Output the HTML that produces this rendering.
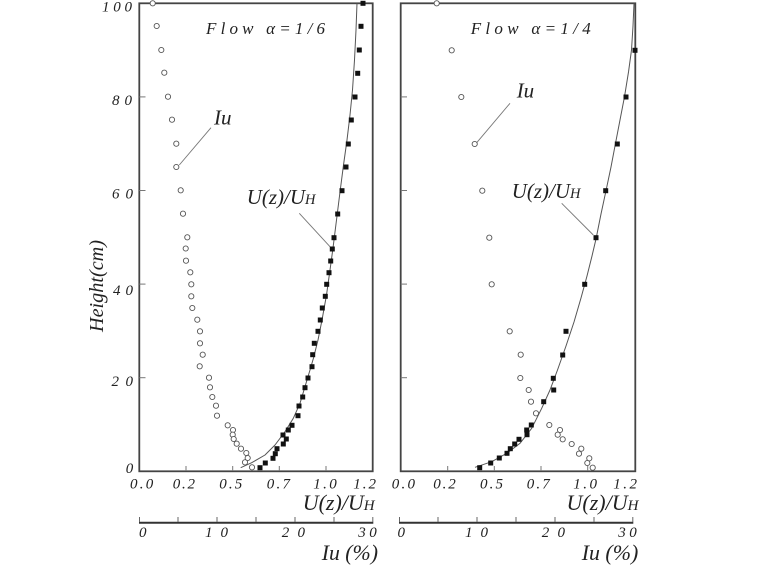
<!DOCTYPE html>
<html><head><meta charset="utf-8"><style>
html,body{margin:0;padding:0;background:#fff;}
svg{display:block;}
text{font-family:"Liberation Serif",serif;font-style:italic;fill:#222;}
</style></head><body>
<svg width="760" height="570" viewBox="0 0 760 570" xmlns="http://www.w3.org/2000/svg">
<!-- Left frame -->
<rect x="139.3" y="3.3" width="233.4" height="468" fill="none" stroke="#444" stroke-width="1.8"/>
<!-- Right frame -->
<rect x="400.7" y="3.3" width="234.6" height="468" fill="none" stroke="#444" stroke-width="1.8"/>
<g stroke="#777" stroke-width="1">
<!-- left y ticks -->
<line x1="139.3" y1="96.9" x2="145.5" y2="96.9"/>
<line x1="139.3" y1="190.5" x2="145.5" y2="190.5"/>
<line x1="139.3" y1="284.1" x2="145.5" y2="284.1"/>
<line x1="139.3" y1="377.7" x2="145.5" y2="377.7"/>
<!-- right y ticks -->
<line x1="400.7" y1="96.9" x2="407" y2="96.9"/>
<line x1="400.7" y1="190.5" x2="407" y2="190.5"/>
<line x1="400.7" y1="284.1" x2="407" y2="284.1"/>
<line x1="400.7" y1="377.7" x2="407" y2="377.7"/>
<!-- left x ticks -->
<line x1="186" y1="471" x2="186" y2="466"/>
<line x1="232.7" y1="471" x2="232.7" y2="466"/>
<line x1="279.3" y1="471" x2="279.3" y2="466"/>
<line x1="326" y1="471" x2="326" y2="466"/>
<!-- right x ticks -->
<line x1="447.7" y1="471" x2="447.7" y2="466"/>
<line x1="494.3" y1="471" x2="494.3" y2="466"/>
<line x1="541" y1="471" x2="541" y2="466"/>
<line x1="587.7" y1="471" x2="587.7" y2="466"/>
</g>

<!-- Iu axes -->
<line x1="139" y1="522.7" x2="373.3" y2="522.7" stroke="#333" stroke-width="2"/>
<line x1="399" y1="522.7" x2="633.3" y2="522.7" stroke="#333" stroke-width="2"/>
<g stroke="#666" stroke-width="1">
<line x1="139.5" y1="517" x2="139.5" y2="522"/>
<line x1="178" y1="517" x2="178" y2="522"/>
<line x1="217" y1="517" x2="217" y2="522"/>
<line x1="256" y1="517" x2="256" y2="522"/>
<line x1="295" y1="517" x2="295" y2="522"/>
<line x1="334" y1="517" x2="334" y2="522"/>
<line x1="372.8" y1="517" x2="372.8" y2="522"/>
<line x1="399.5" y1="517" x2="399.5" y2="522"/>
<line x1="438" y1="517" x2="438" y2="522"/>
<line x1="477" y1="517" x2="477" y2="522"/>
<line x1="516" y1="517" x2="516" y2="522"/>
<line x1="555" y1="517" x2="555" y2="522"/>
<line x1="594" y1="517" x2="594" y2="522"/>
<line x1="632.8" y1="517" x2="632.8" y2="522"/>
</g>

<!-- Curves -->
<polyline fill="none" stroke="#555" stroke-width="1" stroke-linejoin="round" points="240.7,467.7 251.7,462.7 265,455 275,445 285,431.7 293.3,418.3 300,403.3 305.5,385 310,370 313.5,358 318,340 322,320 326.5,295 330,270 333,248 336.5,220 340,192 343.5,165 347,140 350,115 352.5,90 354.5,60 356,30 357,3.3"/>
<polyline fill="none" stroke="#555" stroke-width="1" stroke-linejoin="round" points="475,467.3 491.7,461.7 506.7,453.3 520,443.3 531.7,428.3 541.7,408.3 550,390 557.5,370 566,346 574,322 581,298 587,276 592,256 596,239 601,214 606,190.7 611,167 615.5,143.3 620,120 624.5,96.7 628.5,72 631.5,50 633,26 634,3.3"/>

<!-- Leader lines -->
<g stroke="#777" stroke-width="0.9">
<line x1="179.3" y1="165" x2="211" y2="127.7"/>
<line x1="299.3" y1="213.3" x2="330" y2="246.7"/>
<line x1="510" y1="103.3" x2="476.7" y2="142.7"/>
<line x1="561.7" y1="203.3" x2="593.3" y2="235"/>
</g>

<!-- Left circles -->
<g fill="#fff" stroke="#555" stroke-width="0.9">
<circle cx="152.7" cy="3.3" r="2.6"/><circle cx="156.7" cy="26" r="2.6"/><circle cx="161.3" cy="50" r="2.6"/><circle cx="164.3" cy="72.7" r="2.6"/><circle cx="168" cy="96.7" r="2.6"/><circle cx="172" cy="119.7" r="2.6"/><circle cx="176.3" cy="143.7" r="2.6"/><circle cx="176.3" cy="167" r="2.6"/><circle cx="180.7" cy="190.3" r="2.6"/><circle cx="183" cy="213.7" r="2.6"/><circle cx="187.3" cy="237.3" r="2.6"/><circle cx="185.7" cy="248.5" r="2.6"/><circle cx="186" cy="260.7" r="2.6"/><circle cx="190.3" cy="272.3" r="2.6"/><circle cx="191.3" cy="284.3" r="2.6"/><circle cx="191.3" cy="296.3" r="2.6"/><circle cx="192.3" cy="308" r="2.6"/><circle cx="197.3" cy="319.7" r="2.6"/><circle cx="200" cy="331.3" r="2.6"/><circle cx="200" cy="343.3" r="2.6"/><circle cx="202.7" cy="354.7" r="2.6"/><circle cx="199.7" cy="366.3" r="2.6"/><circle cx="209" cy="377.7" r="2.6"/><circle cx="210" cy="387.3" r="2.6"/><circle cx="212.3" cy="397" r="2.6"/><circle cx="216" cy="405.7" r="2.6"/><circle cx="217" cy="415.7" r="2.6"/><circle cx="227.7" cy="425.3" r="2.6"/><circle cx="233" cy="430" r="2.6"/><circle cx="232.7" cy="434.7" r="2.6"/><circle cx="233.7" cy="439" r="2.6"/><circle cx="236.7" cy="443.7" r="2.6"/><circle cx="241" cy="448.7" r="2.6"/><circle cx="246.3" cy="453" r="2.6"/><circle cx="247.7" cy="458" r="2.6"/><circle cx="245" cy="462.3" r="2.6"/><circle cx="252" cy="467.3" r="2.6"/>
<!-- Right circles -->
<circle cx="436.7" cy="3.3" r="2.6"/><circle cx="451.7" cy="50.3" r="2.6"/><circle cx="461.3" cy="97" r="2.6"/><circle cx="474.7" cy="144" r="2.6"/><circle cx="482.3" cy="190.7" r="2.6"/><circle cx="489.3" cy="237.7" r="2.6"/><circle cx="491.7" cy="284.3" r="2.6"/><circle cx="509.7" cy="331.3" r="2.6"/><circle cx="520.7" cy="354.7" r="2.6"/><circle cx="520.3" cy="378" r="2.6"/><circle cx="528.7" cy="390" r="2.6"/><circle cx="531" cy="401.7" r="2.6"/><circle cx="536" cy="413.3" r="2.6"/><circle cx="549.3" cy="425" r="2.6"/><circle cx="560" cy="430" r="2.6"/><circle cx="557.7" cy="434.7" r="2.6"/><circle cx="562.7" cy="439.3" r="2.6"/><circle cx="571.7" cy="444" r="2.6"/><circle cx="581.3" cy="448.7" r="2.6"/><circle cx="579" cy="453.7" r="2.6"/><circle cx="589.3" cy="458.3" r="2.6"/><circle cx="587.3" cy="463" r="2.6"/><circle cx="592.7" cy="467.7" r="2.6"/>
</g>

<!-- Squares -->
<g fill="#111">
<rect x="360.5" y="0.8" width="5" height="5"/><rect x="358.5" y="23.8" width="5" height="5"/><rect x="356.8" y="47.5" width="5" height="5"/><rect x="355.2" y="70.8" width="5" height="5"/><rect x="352.5" y="94.5" width="5" height="5"/><rect x="348.8" y="117.5" width="5" height="5"/><rect x="345.8" y="141.5" width="5" height="5"/><rect x="343.5" y="164.5" width="5" height="5"/><rect x="339.5" y="188.2" width="5" height="5"/><rect x="335.2" y="211.5" width="5" height="5"/><rect x="331.5" y="235.2" width="5" height="5"/><rect x="329.8" y="246.5" width="5" height="5"/><rect x="328.2" y="258.5" width="5" height="5"/><rect x="326.5" y="270.2" width="5" height="5"/><rect x="324.2" y="281.8" width="5" height="5"/><rect x="322.8" y="293.8" width="5" height="5"/><rect x="319.8" y="305.5" width="5" height="5"/><rect x="317.8" y="317.5" width="5" height="5"/><rect x="315.5" y="328.8" width="5" height="5"/><rect x="311.8" y="340.8" width="5" height="5"/><rect x="310.2" y="352.2" width="5" height="5"/><rect x="309.5" y="364.2" width="5" height="5"/><rect x="305.5" y="375.5" width="5" height="5"/><rect x="302.5" y="385.2" width="5" height="5"/><rect x="300.2" y="394.5" width="5" height="5"/><rect x="296.5" y="403.5" width="5" height="5"/><rect x="295.5" y="413.2" width="5" height="5"/><rect x="289.5" y="422.8" width="5" height="5"/><rect x="285.8" y="427.5" width="5" height="5"/><rect x="280.5" y="432.5" width="5" height="5"/><rect x="283.8" y="436.5" width="5" height="5"/><rect x="280.8" y="441.5" width="5" height="5"/><rect x="274.5" y="446.2" width="5" height="5"/><rect x="272.8" y="451.2" width="5" height="5"/><rect x="270.5" y="455.8" width="5" height="5"/><rect x="262.8" y="460.5" width="5" height="5"/><rect x="257.5" y="465.2" width="5" height="5"/>
<!-- right squares -->
<rect x="632.5" y="47.8" width="5" height="5"/><rect x="623.5" y="94.5" width="5" height="5"/><rect x="614.8" y="141.5" width="5" height="5"/><rect x="603.2" y="188.2" width="5" height="5"/><rect x="593.5" y="235.2" width="5" height="5"/><rect x="582.2" y="281.8" width="5" height="5"/><rect x="563.5" y="328.8" width="5" height="5"/><rect x="560.2" y="352.5" width="5" height="5"/><rect x="550.8" y="375.8" width="5" height="5"/><rect x="551.2" y="387.5" width="5" height="5"/><rect x="541.2" y="399.2" width="5" height="5"/><rect x="528.8" y="422.5" width="5" height="5"/><rect x="524.2" y="427.5" width="5" height="5"/><rect x="524.5" y="432.2" width="5" height="5"/><rect x="516.5" y="436.8" width="5" height="5"/><rect x="512.2" y="441.5" width="5" height="5"/><rect x="507.8" y="446.2" width="5" height="5"/><rect x="504.5" y="450.8" width="5" height="5"/><rect x="496.8" y="455.5" width="5" height="5"/><rect x="488.2" y="460.5" width="5" height="5"/><rect x="477.2" y="465.2" width="5" height="5"/>
</g>

<!-- Y tick labels -->
<g font-size="15" text-anchor="end">
<text x="132" y="11.7" textLength="30" lengthAdjust="spacing">100</text>
<text x="132" y="105" textLength="20" lengthAdjust="spacing">80</text>
<text x="133" y="198.3" textLength="21" lengthAdjust="spacing">60</text>
<text x="133" y="295" textLength="20" lengthAdjust="spacing">40</text>
<text x="133" y="386" textLength="21.5" lengthAdjust="spacing">20</text>
<text x="133.3" y="473">0</text>
</g>
<text font-size="20" transform="translate(103,286) rotate(-90)" text-anchor="middle" textLength="92" lengthAdjust="spacingAndGlyphs">Height(cm)</text>

<!-- X tick labels -->
<g font-size="15">
<text x="130" y="488.3" textLength="23.3" lengthAdjust="spacing">0.0</text>
<text x="172.7" y="488.3" textLength="22.3" lengthAdjust="spacing">0.2</text>
<text x="219.3" y="488.3" textLength="23" lengthAdjust="spacing">0.5</text>
<text x="266.7" y="488.3" textLength="23.3" lengthAdjust="spacing">0.7</text>
<text x="313.3" y="488.3" textLength="23.4" lengthAdjust="spacing">1.0</text>
<text x="353.3" y="488.3" textLength="22.7" lengthAdjust="spacing">1.2</text>
<text x="391.7" y="488.3" textLength="23.3" lengthAdjust="spacing">0.0</text>
<text x="433.3" y="488.3" textLength="22.4" lengthAdjust="spacing">0.2</text>
<text x="480" y="488.3" textLength="23" lengthAdjust="spacing">0.5</text>
<text x="526.7" y="488.3" textLength="23" lengthAdjust="spacing">0.7</text>
<text x="573.3" y="488.3" textLength="23.7" lengthAdjust="spacing">1.0</text>
<text x="613.3" y="488.3" textLength="23.7" lengthAdjust="spacing">1.2</text>
</g>
<!-- Iu tick labels -->
<g font-size="15">
<text x="139" y="537">0</text>
<text x="205" y="537" textLength="23" lengthAdjust="spacing">10</text>
<text x="281.7" y="537" textLength="23.3" lengthAdjust="spacing">20</text>
<text x="358.3" y="537" textLength="18.4" lengthAdjust="spacing">30</text>
<text x="397.5" y="537">0</text>
<text x="465" y="537" textLength="23" lengthAdjust="spacing">10</text>
<text x="541.7" y="537" textLength="23.3" lengthAdjust="spacing">20</text>
<text x="618.3" y="537" textLength="18.4" lengthAdjust="spacing">30</text>
</g>

<!-- Axis titles -->
<text x="302.7" y="510" font-size="22">U(z)/U<tspan font-size="15">H</tspan></text>
<text x="566.5" y="510" font-size="22">U(z)/U<tspan font-size="15">H</tspan></text>
<text x="321.7" y="560" font-size="22" textLength="56.3" lengthAdjust="spacingAndGlyphs">Iu (%)</text>
<text x="581.7" y="560" font-size="22" textLength="56.6" lengthAdjust="spacingAndGlyphs">Iu (%)</text>

<!-- In-plot annotations -->
<text x="206" y="34" font-size="17" textLength="119" lengthAdjust="spacing">Flow α=1/6</text>
<text x="470.7" y="34" font-size="17" textLength="120" lengthAdjust="spacing">Flow α=1/4</text>
<text x="214" y="124.5" font-size="21">Iu</text>
<text x="516.7" y="97.5" font-size="21">Iu</text>
<text x="246.7" y="204" font-size="21">U(z)/U<tspan font-size="14.5">H</tspan></text>
<text x="511.7" y="198" font-size="21">U(z)/U<tspan font-size="14.5">H</tspan></text>
</svg>
</body></html>
